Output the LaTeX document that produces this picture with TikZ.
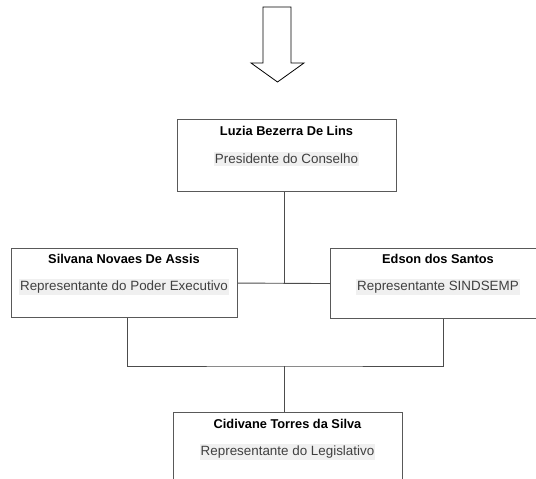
\documentclass[tikz,border=0pt]{standalone}
\usepackage{fontspec}
\setmainfont{Liberation Sans}
\begin{document}
\begin{tikzpicture}[x=1pt,y=-1pt,
  card/.style={draw=black!65,line width=1.1pt,fill=white,inner sep=0pt,anchor=north west},
  persontext/.style={font=\fontsize{12.8}{15}\selectfont\bfseries,text=black,inner sep=0pt},
  roletext/.style={font=\fontsize{13.4}{16}\selectfont,text=black!75,fill=black!6,inner xsep=1pt,inner ysep=2pt},
  link/.style={draw=black!70,line width=0.9pt}]
\useasboundingbox (0,0) rectangle (536,479);
\clip (0,0) rectangle (536,479);

% downward block arrow
\draw[line width=0.8pt,line join=miter]
  (263,7) -- (291,7) -- (291,63) -- (304,63) -- (277.5,82) -- (251,63) -- (263,63) -- cycle;

% boxes
\node[card,minimum width=219pt,minimum height=72pt] (top) at (177,119) {};
\node[card,minimum width=226pt,minimum height=69pt] (left) at (11,248) {};
\node[card,minimum width=216pt,minimum height=70pt] (right) at (330,248) {};
\node[card,minimum width=229pt,minimum height=90pt] (bottom) at (173,412) {};

% texts
\node[persontext] (topn) at (286.5,131) {Luzia Bezerra De Lins};
\node[roletext] (topr) at (286.5,159) {Presidente do Conselho};
\node[persontext] (leftn) at (124,259) {Silvana Novaes De Assis};
\node[roletext] (leftr) at (124,287) {Representante do Poder Executivo};
\node[persontext] (rightn) at (438,259) {Edson dos Santos};
\node[roletext] (rightr) at (438,287) {Representante SINDSEMP};
\node[persontext] (bottomn) at (287.5,424) {Cidivane Torres da Silva};
\node[roletext] (bottomr) at (287.5,452) {Representante do Legislativo};

% connectors
\coordinate (bus) at (284,366);
\draw[link] (left.east) -- (right.west);
\draw[link] ([xshift=-2.5pt]top.south) -- ([xshift=-2.5pt]top.south |- left.east);
\draw[link] ([xshift=3pt]left.south) |- (bus) -| ([xshift=5pt]right.south);
\draw[link] (bus) -- (bus |- bottom.north);
\end{tikzpicture}
\end{document}
